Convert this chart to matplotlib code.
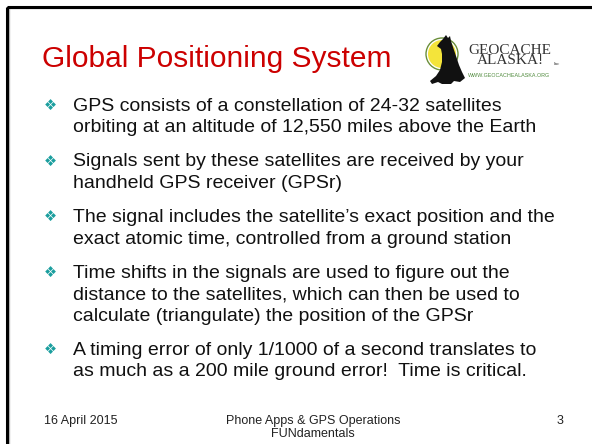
import matplotlib
matplotlib.use("Agg")
import matplotlib.pyplot as plt
from matplotlib.patches import Circle, Polygon, Rectangle

W, H = 592, 444

title = "Global Positioning System"
bullets = [
    ["GPS consists of a constellation of 24-32 satellites",
     "orbiting at an altitude of 12,550 miles above the Earth"],
    ["Signals sent by these satellites are received by your",
     "handheld GPS receiver (GPSr)"],
    ["The signal includes the satellite\u2019s exact position and the",
     "exact atomic time, controlled from a ground station"],
    ["Time shifts in the signals are used to figure out the",
     "distance to the satellites, which can then be used to",
     "calculate (triangulate) the position of the GPSr"],
    ["A timing error of only 1/1000 of a second translates to",
     "as much as a 200 mile ground error!  Time is critical."],
]
footer_left = "16 April 2015"
footer_center = ["Phone Apps & GPS Operations", "FUNdamentals"]
footer_right = "3"
logo_name = ["GEOCACHE", "ALASKA!"]
logo_url = "WWW.GEOCACHEALASKA.ORG"

plt.rcParams['font.family'] = ['Liberation Sans', 'DejaVu Sans']

fig = plt.figure(figsize=(W / 100, H / 100), dpi=100)
fig.patch.set_facecolor('white')

def fx(x):
    return x / W

def fy(y):
    return 1 - y / H

# slide frame (top and left edges)
bg = fig.add_axes([0, 0, 1, 1])
bg.set_xlim(0, W)
bg.set_ylim(H, 0)
bg.axis('off')
bg.add_patch(Rectangle((8.5, 8.5), W, H, fill=False, edgecolor='#bbbbbb', lw=1.0))
bg.add_patch(Rectangle((7, 7), W, H, fill=False, edgecolor='black', lw=2.2))

# title
fig.text(fx(42), fy(67), title, color='#cc0000', fontsize=21.5, va='baseline', ha='left')

# bullets
line_h = 21.5
para_gap = 12.5
y = 111
for para in bullets:
    fig.text(fx(44), fy(y - 1), "\u2756", color='#1a9e9e', fontsize=10.5,
             family=['DejaVu Sans'], va='baseline', ha='left')
    for line in para:
        fig.text(fx(73), fy(y), line, color='#111111', fontsize=14, va='baseline', ha='left')
        y += line_h
    y += para_gap

# footer
fig.text(fx(44), fy(424), footer_left, fontsize=9, color='#222222', va='baseline', ha='left')
fig.text(fx(313), fy(424), footer_center[0], fontsize=9, color='#222222', va='baseline', ha='center')
fig.text(fx(313), fy(437), footer_center[1], fontsize=9, color='#222222', va='baseline', ha='center')
fig.text(fx(563), fy(424), footer_right, fontsize=9, color='#222222', va='baseline', ha='right')

# logo
lx0, ly0, lw, lh = 420, 32, 150, 54
lg = fig.add_axes([fx(lx0), fy(ly0 + lh), lw / W, lh / H])
lg.set_xlim(0, lw)
lg.set_ylim(lh, 0)
lg.axis('off')
lg.add_patch(Circle((22, 22), 16, facecolor='none', edgecolor='#6b8f3a', lw=1.0))
lg.add_patch(Circle((22, 22), 14, facecolor='#f4e43a', edgecolor='none'))
wolf = [(20, 10), (23, 7), (26, 3), (28, 6), (30, 4), (31, 9), (33, 15), (36, 24),
        (39, 33), (42, 40), (45, 46), (40, 50), (34, 49), (31, 52), (22, 52),
        (18, 50), (12, 52), (10, 49), (16, 44), (20, 38), (22, 30), (22, 22),
        (21, 17), (17, 14)]
lg.add_patch(Polygon(wolf, closed=True, facecolor='#111111', edgecolor='none'))
lg.text(90, 23.5, "\n".join(logo_name), family=['Liberation Serif'], fontsize=11,
        color='#333333', va='center', ha='center', multialignment='center',
        linespacing=0.8)
lg.text(134, 33, "Inc", family=['Liberation Serif'], fontsize=3.5, color='#333333',
        va='baseline', ha='left')
lg.text(48, 45, logo_url, fontsize=3.9, color='#4f8a3c', va='baseline', ha='left')

fig.savefig("out.png", dpi=100, facecolor='white')
